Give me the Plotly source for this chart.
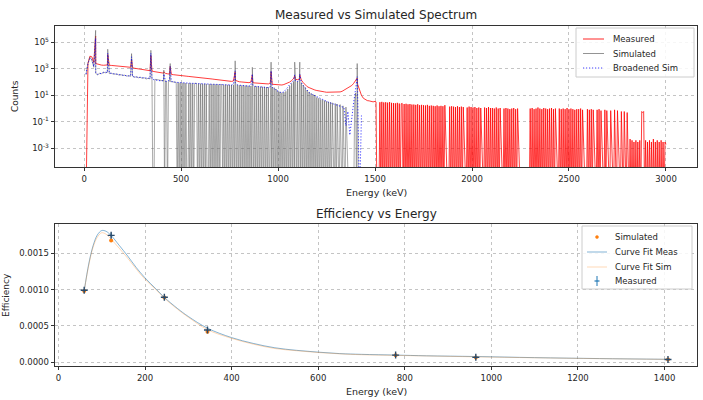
import plotly.graph_objects as go

# ---------------- Spectrum data ----------------
# measured: 10 keV channels 0..1490, then 5 keV channels 1500..3000 (0 = empty channel)
meas_counts_low = [
    None, 0, 2500, 9000, 8000, 3000, 2500, 2200, 2000, 1900,
    1850, 1900, 1950, 1850, 1800, 1750, 1700, 1650, 1600, 1560,
    1500, 1450, 1400, 1350, 1300, 1200, 1100, 1050, 1000, 950,
    880, 840, 800, 760, 720, 680, 620, 580, 550, 520,
    480, 470, 450, 420, 400, 380, 360, 340, 330, 320,
    300, 290, 282, 275, 265, 258, 250, 243, 236, 228,
    220, 212, 205, 195, 185, 178, 170, 162, 155, 148,
    142, 136, 130, 125, 120, 116, 112, 120, 135, 115,
    105, 102, 98, 95, 92, 90, 100, 88, 85, 83,
    80, 78, 76, 75, 73, 72, 85, 68, 65, 62,
    60, 58, 60, 65, 72, 80, 100, 130, 180, 160,
    150, 170, 140, 90, 60, 45, 38, 32, 28, 25,
    23, 21, 20, 19, 18, 17, 17, 16, 16, 16,
    16, 17, 18, 20, 24, 28, 34, 42, 55, 80,
    140, 70, 25, 10, 6, 4.5, 4, 3.8, 3.5, 3.2,
]
meas_counts_tail = [
    3.5, 3.2, 0, 0, 0, 3.0, 0, 3.2, 0, 2.9,
    0, 3.0, 0, 2.8, 0, 3.1, 0, 2.7, 0, 2.6,
    0, 2.5, 0, 2.7, 0, 2.4, 0, 2.3, 2.5, 0,
    2.2, 0, 2.3, 0, 2.1, 0, 2.2, 0, 2.0, 0,
    2.0, 0, 1.9, 0, 2.1, 0, 1.8, 0, 1.9, 0,
    1.8, 0, 1.7, 0, 1.9, 0, 1.6, 0, 1.7, 0,
    1.6, 0, 1.5, 0, 1.7, 0, 1.5, 0, 1.6, 0,
    1.5, 0, 1.8, 0, 0, 0, 0, 1.4, 0, 1.5,
    0, 1.4, 0, 1.3, 0, 1.5, 0, 1.3, 0, 1.4,
    0, 1.3, 0, 0, 0, 1.2, 0, 1.4, 0, 1.3,
    0, 1.2, 0, 1.3, 0, 1.1, 0, 1.2, 0, 1.1,
    0, 0, 0, 1.2, 0, 1.1, 0, 1.3, 0, 1.1,
    0, 1.1, 0, 1.0, 0, 1.2, 0, 1.0, 0, 1.1,
    0, 0, 0, 1.0, 0, 1.1, 0, 1.0, 0, 0.9,
    0, 1.0, 0, 1.1, 0, 0.9, 0, 1.0, 0, 0,
    0, 0, 0, 0, 0, 0, 0, 0, 0, 0,
    1.0, 0, 1.1, 0, 0.9, 0, 1.0, 0, 1.2, 0,
    1.0, 0, 0.9, 0, 1.1, 0, 1.0, 0, 0.9, 0,
    1.0, 0, 1.1, 0, 0.9, 0, 1.0, 0, 0, 0,
    1.0, 0, 0.9, 0, 1.0, 0, 0.9, 0, 1.1, 0,
    0.9, 0, 1.0, 0, 0.9, 0, 0.8, 0, 0.9, 0,
    0.9, 0, 1.0, 0, 0.8, 0, 0, 0, 0, 0.9,
    0, 0.8, 0, 0.9, 0, 0.8, 0, 0, 0, 0.8,
    0, 0.9, 0, 0.7, 0, 0, 0, 0.8, 0, 0.7,
    0, 0, 0, 0.7, 0, 0, 0, 0.8, 0, 0,
    0.7, 0, 0, 0, 0.6, 0, 0, 0.6, 0, 0,
    0.5, 0, 0, 0.005, 0, 0.004, 0, 0.003, 0, 0.004,
    0, 0.003, 0, 0.004, 0, 0.6, 0.5, 0.6, 0, 0.004,
    0, 0.003, 0, 0.004, 0, 0.003, 0, 0.005, 0, 0.003,
    0, 0.004, 0, 0.003, 0, 0.004, 0, 0.003, 0, 0.003,
    0.002,
]
# simulated: 10 keV channels 0..340, then 5 keV channels 350..1430
sim_counts_low = [
    None, 350, 2800, 7500, 4500, 1300, 450, 350, 460, 430,
    560, 500, 540, 430, 470, 400, 380, 400, 330, 360,
    310, 330, 280, 300, 270, 280, 230, 250, 210, 230,
    190, 210, 170, 190, 175,
]
sim_counts_mid = [
    170, 0, 0, 160, 150, 155, 150, 145, 140, 135,
    130, 125, 120, 0, 125, 115, 0, 110, 112, 108,
    105, 104, 100, 98, 96, 95, 0, 92, 0, 90,
    0, 88, 0, 86, 0, 85, 0, 0, 84, 0,
    82, 0, 80, 0, 80, 81, 79, 0, 78, 0,
    76, 0, 75, 0, 74, 0, 73, 0, 0, 72,
    0, 71, 0, 70, 0, 69, 0, 68, 0, 67,
    0, 66, 65, 0, 64, 0, 63, 0, 62, 0,
    61, 0, 60, 0, 62, 0, 90, 0, 61, 0,
    58, 0, 57, 0, 56, 0, 55, 0, 54, 0,
    52, 0, 51, 0, 50, 0, 49, 0, 48, 0,
    46, 0, 45, 0, 44, 0, 43, 0, 42, 0,
    41, 0, 40, 0, 40, 0, 38, 0, 30, 0,
    22, 0, 18, 0, 16, 0, 17, 0, 20, 0,
    30, 0, 50, 0, 80, 0, 110, 0, 125, 0,
    110, 0, 120, 0, 90, 0, 60, 0, 40, 0,
    25, 0, 18, 0, 14, 0, 12, 0, 10, 0,
    7, 0, 6, 0, 5, 0, 4.5, 0, 4, 0,
    3.5, 0, 3.2, 0, 3, 0, 2.7, 0, 0, 2.4,
    0, 2.2, 0, 0, 2, 0, 0, 1.6, 0, 0,
    1.3, 0, 0, 0, 0, 0, 0, 0, 0, 3,
    15, 0, 0, 0, 0, 0, 0,
]
# broadened simulation: 10 keV channels 0..1430
broad_counts = [
    None, 400, 2500, 6000, 5000, 1500, 500, 380, 420, 480,
    520, 560, 520, 480, 450, 420, 400, 380, 360, 345,
    330, 315, 300, 290, 300, 260, 245, 235, 225, 215,
    205, 195, 185, 178, 190, 170, 150, 140, 132, 125,
    120, 140, 115, 110, 150, 115, 100, 97, 94, 91,
    88, 86, 85, 83, 82, 80, 79, 78, 77, 76,
    75, 74, 73, 72, 71, 70, 69, 68, 67, 66,
    65, 64, 63, 62, 61, 60, 60, 70, 90, 62,
    58, 56, 54, 52, 50, 49, 55, 60, 48, 46,
    44, 42, 41, 40, 39, 38, 45, 40, 30, 25,
    20, 17, 16, 18, 25, 40, 65, 95, 130, 120,
    110, 130, 90, 55, 35, 22, 16, 13, 11, 9,
    7, 6, 5, 4.5, 4, 3.5, 3, 2.7, 2.4, 2.2,
    2, 1.8, 1.6, 1.4, 1.2, 0.05, 0.6, 0.01, 0.3, 3,
    30, 20, 0, 0.3,
]
peak_energies = [59.5, 121.8, 244.7, 344.3, 411.1, 443.9, 778.9, 867.4, 964.1, 1085.8, 1112.1, 1408.0]
meas_peak_counts = [300000, 12000, 5000, 10000, 600, 1500, 600, 350, 600, 300, 350, 200]
sim_peak_counts = [800000, 30000, 14000, 25000, 800, 2500, 4000, 1300, 3200, 3200, 3200, 2500]
broad_peak_counts = [200000, 15000, 8000, 15000, 400, 1500, 700, 400, 700, 350, 400, 250]

# ---------------- Efficiency data ----------------
eff_energy = [59.5, 121.8, 244.7, 344.3, 778.9, 964.1, 1408.0]
eff_meas = [0.00099, 0.001744, 0.000895, 0.000445, 0.000100, 0.000069, 0.000040]
eff_meas_err = [0.00002, 0.00003, 0.00002, 0.00002, 0.000005, 0.000004, 0.000003]
eff_sim = [0.00098, 0.001675, 0.00089, 0.00042, 0.000098, 0.000068, 0.000040]
fit_energy = [59.5, 70, 80, 90, 100, 110, 122, 140, 160, 180, 200, 225, 245, 275, 300,
              344, 400, 450, 500, 550, 600, 650, 700, 779, 850, 964, 1100, 1250, 1408]
fit_meas = [0.00098, 0.00135, 0.00160, 0.00175, 0.00181, 0.00180, 0.00174, 0.00161, 0.00146,
            0.00130, 0.00116, 0.00101, 0.00089, 0.00074, 0.00063, 0.00047, 0.00034, 0.00026,
            0.00020, 0.000165, 0.00014, 0.00012, 0.00011, 0.00010, 0.00009, 0.00008,
            0.000065, 0.000052, 0.000042]
fit_sim = [0.00098, 0.00133, 0.00158, 0.00172, 0.00178, 0.00176, 0.00169, 0.00157, 0.00143,
           0.00128, 0.00114, 0.00100, 0.00088, 0.00073, 0.00062, 0.00045, 0.00033, 0.00025,
           0.00019, 0.00016, 0.000135, 0.000117, 0.000105, 0.000096, 0.000088, 0.000076,
           0.000063, 0.000051, 0.000041]

FLOOR = 1e-7  # empty channels are clipped below the log axis (as matplotlib does)


def merge(grid_e, grid_v, pk_e, pk_v):
    pts = list(zip(grid_e, grid_v)) + list(zip(pk_e, pk_v))
    pts.sort(key=lambda p: p[0])
    xs = [p[0] for p in pts]
    ys = [None if p[1] is None else (FLOOR if p[1] == 0 else p[1]) for p in pts]
    return xs, ys


meas_grid_e = [10 * i for i in range(len(meas_counts_low))] + \
              [1500 + 5 * i for i in range(len(meas_counts_tail))]
meas_x, meas_y = merge(meas_grid_e, meas_counts_low + meas_counts_tail, peak_energies, meas_peak_counts)
sim_grid_e = [10 * i for i in range(len(sim_counts_low))] + \
             [350 + 5 * i for i in range(len(sim_counts_mid))]
sim_x, sim_y = merge(sim_grid_e, sim_counts_low + sim_counts_mid, peak_energies, sim_peak_counts)
broad_grid_e = [10 * i for i in range(len(broad_counts))]
broad_x, broad_y = merge(broad_grid_e, broad_counts, peak_energies, broad_peak_counts)

W, H = 703, 400
FONT = "DejaVu Sans"
TXT = "#262626"


def px(x):
    return x / W


def py(y):
    return 1 - y / H


RED = "rgba(255,0,0,0.85)"
GRAY = "rgba(90,90,90,0.65)"
BLUE = "rgba(0,0,255,0.75)"
FITB = "rgba(31,119,180,0.55)"
FITO = "rgba(255,127,14,0.3)"
DOT = "1.2px,1.8px"

fig = go.Figure()
fig.add_trace(go.Scatter(x=meas_x, y=meas_y, mode="lines", name="Measured",
                         line=dict(color=RED, width=0.9), xaxis="x", yaxis="y"))
fig.add_trace(go.Scatter(x=sim_x, y=sim_y, mode="lines", name="Simulated",
                         line=dict(color=GRAY, width=0.8), xaxis="x", yaxis="y"))
fig.add_trace(go.Scatter(x=broad_x, y=broad_y, mode="lines", name="Broadened Sim",
                         line=dict(color=BLUE, width=1, dash=DOT), xaxis="x", yaxis="y"))

fig.add_trace(go.Scatter(x=eff_energy, y=eff_sim, mode="markers", name="Simulated",
                         marker=dict(color="#ff7f0e", size=4), xaxis="x2", yaxis="y2"))
fig.add_trace(go.Scatter(x=fit_energy, y=fit_meas, mode="lines", name="Curve Fit Meas",
                         line=dict(color=FITB, width=1, shape="spline"), xaxis="x2", yaxis="y2"))
fig.add_trace(go.Scatter(x=fit_energy, y=fit_sim, mode="lines", name="Curve Fit Sim",
                         line=dict(color=FITO, width=1, shape="spline"), xaxis="x2", yaxis="y2"))
fig.add_trace(go.Scatter(x=eff_energy, y=eff_meas, mode="markers", name="Measured",
                         marker=dict(color="#1f77b4", size=5, symbol="cross-thin",
                                     line=dict(color="#2a4a6a", width=1.4)),
                         error_y=dict(type="data", array=eff_meas_err, color="#1f77b4",
                                      thickness=1, width=0),
                         xaxis="x2", yaxis="y2"))

axis_common = dict(showline=True, linecolor="#333333", linewidth=0.8, mirror=True,
                   ticks="outside", ticklen=3.5, tickwidth=0.8, tickcolor="#333333",
                   showgrid=True, gridcolor="#c4c4c4", griddash="dot", gridwidth=0.8,
                   zeroline=False, automargin=False,
                   tickfont=dict(size=8.5, color=TXT, family=FONT))

x_dom = [px(55), px(697)]
yticks_log = [1e-3, 1e-1, 1e1, 1e3, 1e5]
ytext_log = ["10<sup>-3</sup>", "10<sup>-1</sup>", "10<sup>1</sup>", "10<sup>3</sup>", "10<sup>5</sup>"]

fig.update_layout(
    width=W, height=H, margin=dict(l=0, r=0, t=0, b=0, autoexpand=False),
    paper_bgcolor="white", plot_bgcolor="white", showlegend=False,
    font=dict(family=FONT, color=TXT),
    xaxis=dict(domain=x_dom, anchor="y", range=[-150, 3160],
               tickvals=[0, 500, 1000, 1500, 2000, 2500, 3000], **axis_common),
    yaxis=dict(domain=[py(167), py(26)], anchor="x", type="log", range=[-4.41, 6.23],
               tickvals=yticks_log, ticktext=ytext_log, **axis_common),
    xaxis2=dict(domain=x_dom, anchor="y2", range=[-7.9, 1475],
                tickvals=[0, 200, 400, 600, 800, 1000, 1200, 1400], **axis_common),
    yaxis2=dict(domain=[py(366), py(224)], anchor="x2", range=[-0.00005, 0.0019],
                tickvals=[0, 0.0005, 0.001, 0.0015], tickformat=".4f", **axis_common),
)

# titles and axis labels
texts = [
    ("Measured vs Simulated Spectrum", 376, 15, 12, 0),
    ("Energy (keV)", 376, 192, 9.5, 0),
    ("Counts", 15, 96, 9, -90),
    ("Efficiency vs Energy", 376, 214, 12, 0),
    ("Energy (keV)", 376, 391, 9.5, 0),
    ("Efficiency", 6, 295, 9, -90),
]
for t, x, y, s, ang in texts:
    fig.add_annotation(text=t, x=px(x), y=py(y), xref="paper", yref="paper",
                       xanchor="center", yanchor="middle", showarrow=False,
                       textangle=ang, font=dict(size=s, family=FONT, color=TXT))


# ---- legends drawn matplotlib-style ----
def legend_box(x0, y0, x1, y1):
    fig.add_shape(type="rect", xref="paper", yref="paper", x0=px(x0), x1=px(x1),
                  y0=py(y1), y1=py(y0), line=dict(color="#cccccc", width=1),
                  fillcolor="rgba(255,255,255,0.85)", layer="above")


def legend_line(x0, x1, y, color, dash="solid", width=1):
    fig.add_shape(type="line", xref="paper", yref="paper", x0=px(x0), x1=px(x1),
                  y0=py(y), y1=py(y), line=dict(color=color, width=width, dash=dash),
                  layer="above")


def legend_text(t, x, y):
    fig.add_annotation(text=t, x=px(x), y=py(y), xref="paper", yref="paper",
                       xanchor="left", yanchor="middle", showarrow=False,
                       font=dict(size=8.5, family=FONT, color=TXT))


legend_box(576, 28, 694, 77)
for (lab, col, dash), yy in zip([("Measured", RED, "solid"), ("Simulated", GRAY, "solid"),
                                 ("Broadened Sim", BLUE, DOT)], [39, 53.5, 68]):
    legend_line(583, 604, yy, col, dash)
    legend_text(lab, 611, yy)

legend_box(582, 226, 692, 289)
fig.add_shape(type="circle", xref="paper", yref="paper", x0=px(595.5), x1=px(598.5),
              y0=py(238.5), y1=py(235.5), line=dict(color="#ff7f0e", width=0.5),
              fillcolor="#ff7f0e", layer="above")
legend_text("Simulated", 613, 237)
legend_line(587, 607, 252, FITB)
legend_text("Curve Fit Meas", 613, 252)
legend_line(587, 607, 267, FITO)
legend_text("Curve Fit Sim", 613, 267)
fig.add_shape(type="line", xref="paper", yref="paper", x0=px(597), x1=px(597),
              y0=py(286), y1=py(276), line=dict(color="#1f77b4", width=1), layer="above")
fig.add_shape(type="line", xref="paper", yref="paper", x0=px(594.5), x1=px(599.5),
              y0=py(281), y1=py(281), line=dict(color="#1f77b4", width=1.2), layer="above")
legend_text("Measured", 613, 281)

fig.write_html("out.html", config={"displayModeBar": False},
               post_script="document.body.style.margin='0';document.body.style.overflow='hidden';")
